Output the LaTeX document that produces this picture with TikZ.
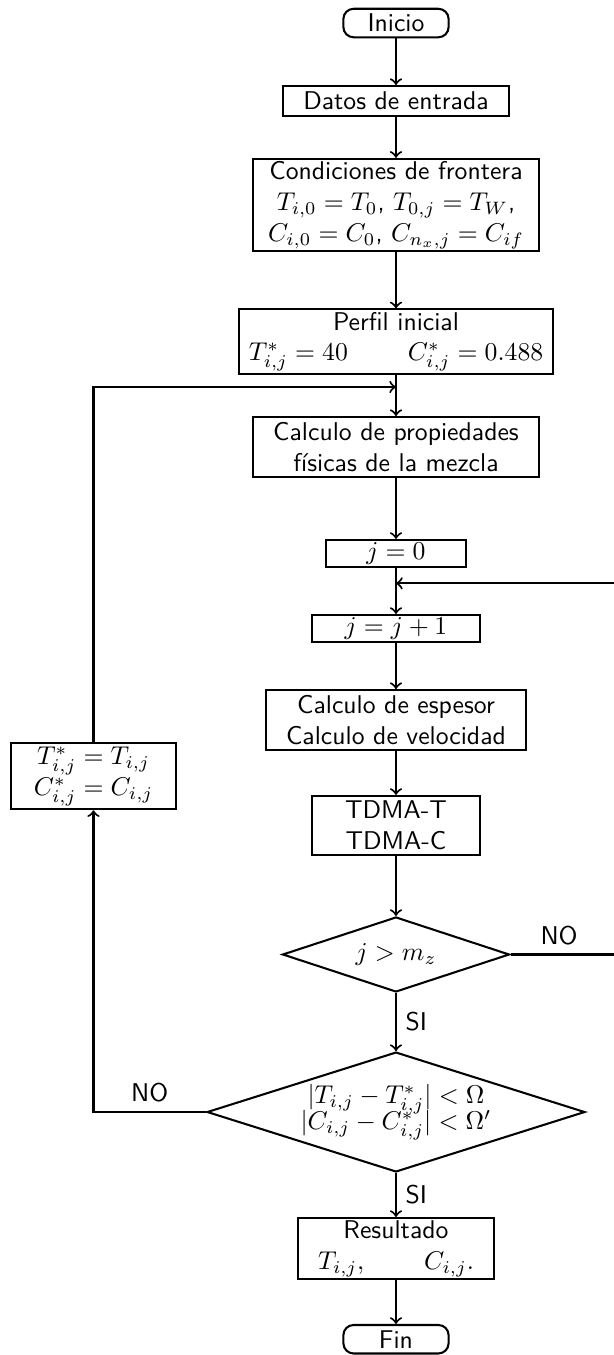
\documentclass[tikz,border=0pt]{standalone}
\usepackage{fontspec}
\usepackage{tikz}
\usetikzlibrary{shapes.geometric}

\begin{document}
\begin{tikzpicture}[thick,
  caja/.style={draw, align=center, font=\sffamily, inner sep=1pt},
  terminal/.style={caja, rounded corners=4pt, minimum width=1.44cm, minimum height=0.39cm},
  rombo/.style={draw, diamond, aspect=3, align=center, inner sep=0pt},
  etiqueta/.style={font=\sffamily}]
    % diagrama de flujo
\useasboundingbox (0,0) rectangle (8.386,-18.536);

\node[terminal] (ini) at (5.417,-0.315) {Inicio};
\node[caja, minimum width=3.09cm, minimum height=0.41cm] (datos) at (5.417,-1.382) {Datos de entrada};
\node[caja, minimum width=3.91cm, minimum height=1.23cm] (cond) at (5.417,-2.804)
  {Condiciones de frontera\\$T_{i,0}=T_0$, $T_{0,j}=T_W$,\\$C_{i,0}=C_0$, $C_{n_x,j}=C_{if}$};
\node[caja, minimum width=4.30cm, minimum height=0.80cm] (perfil) at (5.417,-4.672)
  {Perfil inicial\\$T^*_{i,j}=40$\qquad\ $C^*_{i,j}=0.488$};
\node[caja, minimum width=3.90cm, minimum height=0.82cm] (prop) at (5.417,-6.115)
  {Calculo de propiedades\\físicas de la mezcla};
\node[caja, minimum width=1.915cm, minimum height=0.37cm] (j0) at (5.417,-7.572) {$j=0$};
\node[caja, minimum width=2.30cm, minimum height=0.37cm] (j1) at (5.417,-8.598) {$j=j+1$};
\node[caja, minimum width=3.557cm, minimum height=0.82cm] (esp) at (5.417,-9.850)
  {Calculo de espesor\\Calculo de velocidad};
\node[caja, minimum width=2.30cm, minimum height=0.81cm] (tdma) at (5.417,-11.293) {TDMA-T\\TDMA-C};
\node[rombo, minimum width=3.105cm, minimum height=1.026cm] (d1) at (5.417,-13.057) {$j>m_z$};
\node[rombo, minimum width=5.17cm, minimum height=1.64cm] (d2) at (5.417,-15.212)
  {$|T_{i,j}-T^*_{i,j}|<\Omega$\\[-2pt]$|C_{i,j}-C^*_{i,j}|<\Omega'$};
\node[caja, minimum width=2.26cm, minimum height=0.90cm] (act) at (1.279,-10.62)
  {$T^*_{i,j}=T_{i,j}$\\$C^*_{i,j}=C_{i,j}$};
\node[caja, minimum width=2.67cm, minimum height=0.81cm] (res) at (5.417,-17.08)
  {Resultado\\$T_{i,j},$\qquad\ $C_{i,j}.$};
\node[terminal] (fin) at (5.417,-18.32) {Fin};

\coordinate (unionI) at (5.417,-5.294);
\coordinate (unionD) at (5.417,-7.98);
\coordinate (retD) at (8.46,-7.98);

\foreach \a/\b in {ini/datos, datos/cond, cond/perfil, perfil/prop, prop/j0,
                   j0/j1, j1/esp, esp/tdma, tdma/d1, res/fin}
  \draw[->] (\a) -- (\b);

\draw[->] (d1) -- node[etiqueta, right] (si1) {SI} (d2);
\draw[->] (d2) -- node[etiqueta, right] (si2) {SI} (res);

% lazos de retorno
\draw[->] (d1.east) -- node[etiqueta, above, pos=0.45] (no1) {NO} (retD |- d1.east) |- (unionD);
\draw[->] (d2.west) -- node[etiqueta, above] (no2) {NO} (act.south |- d2.west) -- (act.south);
\draw[->] (act.north) |- (unionI);
\end{tikzpicture}
\end{document}
